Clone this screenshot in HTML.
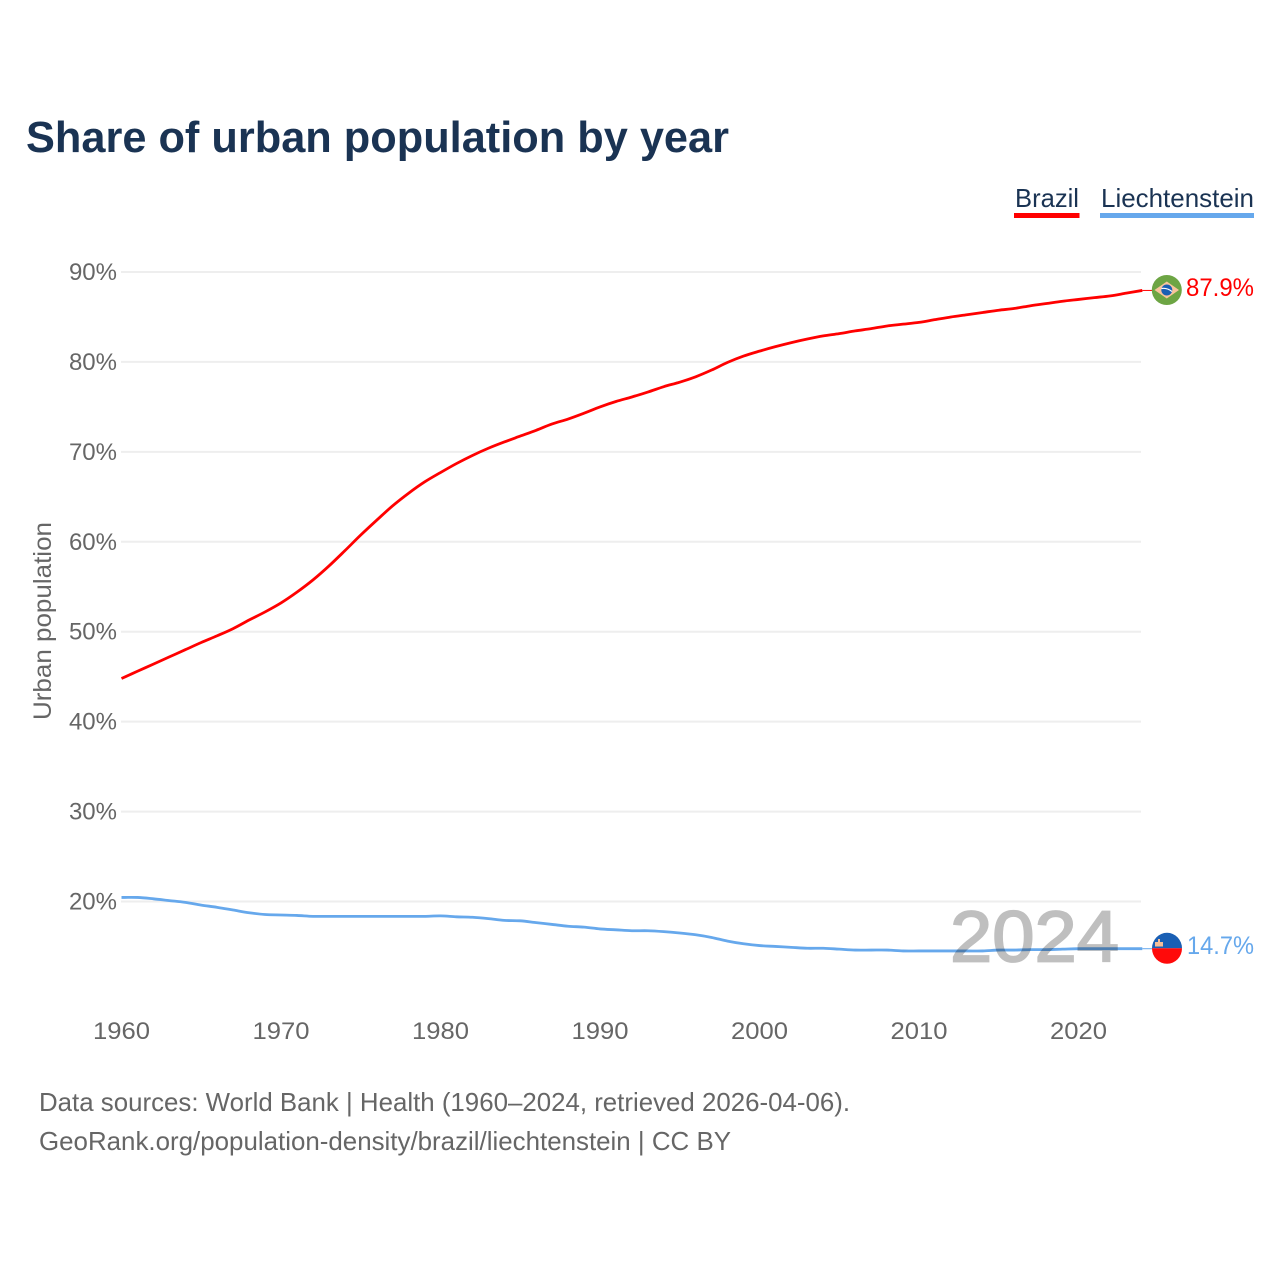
<!DOCTYPE html>
<html lang="en">
<head>
<meta charset="utf-8">
<title>Share of urban population by year</title>
<style>
  html, body { margin: 0; padding: 0; background: #ffffff; }
  svg { display: block; font-family: "Liberation Sans", sans-serif; }
</style>
</head>
<body>
<svg id="chart" xmlns="http://www.w3.org/2000/svg" width="1280" height="1280" viewBox="0 0 1280 1280">
  <rect x="0" y="0" width="1280" height="1280" fill="#ffffff"/>
  <text x="26" y="152" font-size="44" font-weight="700" fill="#1a3353" textLength="703" lengthAdjust="spacingAndGlyphs">Share of urban population by year</text>

  <g>
    <g>
      <text x="1015" y="207" font-size="26" fill="#1a3353" textLength="64" lengthAdjust="spacingAndGlyphs">Brazil</text>
      <rect x="1014" y="213" width="65.5" height="5" fill="#ff0000"/>
    </g>
    <g>
      <text x="1101" y="207" font-size="26" fill="#1a3353" textLength="153" lengthAdjust="spacingAndGlyphs">Liechtenstein</text>
      <rect x="1100" y="213" width="154" height="5" fill="#66a8ec"/>
    </g>
  </g>

  <g id="grid"></g>
  <g id="y-ticks"></g>
  <g id="x-ticks"></g>

  <text transform="translate(51 621) rotate(-90)" text-anchor="middle" font-size="25" fill="#666666" textLength="198" lengthAdjust="spacingAndGlyphs">Urban population</text>

  <g id="series"></g>

  <text x="950" y="961.5" font-size="72" fill="#bfbfbf" stroke="#bfbfbf" stroke-width="1.8" textLength="169" lengthAdjust="spacingAndGlyphs" style="mix-blend-mode:multiply">2024</text>

  <g>
    <circle cx="1166.8" cy="290" r="15" fill="#6da544"/>
    <polygon points="1154.5,290 1166.8,281.5 1179,290 1166.8,298.5" fill="#f8c49c"/>
    <circle cx="1166.8" cy="290" r="5.5" fill="#1a5fb4"/>
    <path d="M1161.5 288.5 Q1167 287.5 1172 291.5" stroke="#ffffff" stroke-width="1.2" fill="none"/>
  </g>
  <g>
    <path d="M1152 948.3 A15 15.5 0 0 1 1182 948.3 Z" fill="#1a5fb4"/>
    <path d="M1152 948.3 A15 15.5 0 0 0 1182 948.3 Z" fill="#ff0a0a"/>
    <rect x="1155" y="942" width="8" height="4.5" fill="#f5be98"/>
    <rect x="1158" y="939" width="2" height="3.5" fill="#f5be98"/>
  </g>

  <text x="1186" y="296" font-size="25" fill="#ff0000" textLength="68" lengthAdjust="spacingAndGlyphs">87.9%</text>
  <text x="1187" y="954" font-size="25" fill="#66a8ec" textLength="67" lengthAdjust="spacingAndGlyphs">14.7%</text>

  <text x="39" y="1111" font-size="26" fill="#666666" textLength="811" lengthAdjust="spacingAndGlyphs">Data sources: World Bank | Health (1960–2024, retrieved 2026-04-06).</text>
  <text x="39" y="1150" font-size="26" fill="#666666" textLength="692" lengthAdjust="spacingAndGlyphs">GeoRank.org/population-density/brazil/liechtenstein | CC BY</text>
</svg>

<script>
const startYear = 1960;
const yTickValues = [20, 30, 40, 50, 60, 70, 80, 90];
const xTickYears = [1960, 1970, 1980, 1990, 2000, 2010, 2020];
const brazilValues = [
  44.8, 45.6, 46.4, 47.2, 48.0, 48.8, 49.55, 50.35, 51.3, 52.2,
  53.2, 54.4, 55.75, 57.3, 59.0, 60.75, 62.4, 64.0, 65.4, 66.65,
  67.7, 68.7, 69.6, 70.4, 71.1, 71.75, 72.4, 73.1, 73.65, 74.3,
  75.0, 75.6, 76.1, 76.65, 77.25, 77.75, 78.35, 79.1, 79.95, 80.65,
  81.2, 81.7, 82.15, 82.55, 82.9, 83.15, 83.45, 83.7, 84.0, 84.2,
  84.4, 84.7, 85.0, 85.25, 85.5, 85.75, 85.95, 86.25, 86.5, 86.75,
  86.95, 87.15, 87.35, 87.65, 87.95
];
const liechtensteinValues = [
  20.45, 20.45, 20.3, 20.1, 19.9, 19.6, 19.35, 19.05, 18.75, 18.55,
  18.5, 18.45, 18.35, 18.35, 18.35, 18.35, 18.35, 18.35, 18.35, 18.35,
  18.4, 18.3, 18.25, 18.1, 17.9, 17.85, 17.65, 17.45, 17.25, 17.15,
  16.95, 16.85, 16.75, 16.75, 16.65, 16.5, 16.3, 16.0, 15.6, 15.3,
  15.1, 15.0, 14.9, 14.8, 14.8, 14.7, 14.6, 14.6, 14.6, 14.5,
  14.5, 14.5, 14.5, 14.5, 14.5, 14.6, 14.6, 14.65, 14.65, 14.7,
  14.75, 14.75, 14.75, 14.75, 14.75
];

const SVG_NS = 'http://www.w3.org/2000/svg';
function xScale(year) { return 121.5 + (year - 1960) * (1078.5 - 121.5) / 60; }
function yScale(value) { return 272 + (90 - value) * (901.5 - 272) / 70; }
function linePath(values) {
  const pts = values.map(function (v, i) { return [xScale(startYear + i), yScale(v)]; });
  let d = 'M' + pts[0][0].toFixed(2) + ' ' + pts[0][1].toFixed(2);
  for (let i = 0; i < pts.length - 1; i++) {
    const p0 = pts[Math.max(i - 1, 0)];
    const p1 = pts[i];
    const p2 = pts[i + 1];
    const p3 = pts[Math.min(i + 2, pts.length - 1)];
    const c1x = p1[0] + (p2[0] - p0[0]) / 6;
    const c1y = p1[1] + (p2[1] - p0[1]) / 6;
    const c2x = p2[0] - (p3[0] - p1[0]) / 6;
    const c2y = p2[1] - (p3[1] - p1[1]) / 6;
    d += ' C' + c1x.toFixed(2) + ' ' + c1y.toFixed(2) + ' ' + c2x.toFixed(2) + ' ' + c2y.toFixed(2) + ' ' + p2[0].toFixed(2) + ' ' + p2[1].toFixed(2);
  }
  return d;
}

const gridGroup = document.getElementById('grid');
const yTickGroup = document.getElementById('y-ticks');
const xTickGroup = document.getElementById('x-ticks');
const seriesGroup = document.getElementById('series');

yTickValues.forEach(function (v) {
  const gridLine = document.createElementNS(SVG_NS, 'line');
  
  
  gridLine.setAttribute('x1', 121);
  gridLine.setAttribute('x2', 1141);
  gridLine.setAttribute('y1', yScale(v));
  gridLine.setAttribute('y2', yScale(v));
  gridLine.setAttribute('stroke', '#eeeeee');
  gridLine.setAttribute('stroke-width', 2);
  gridGroup.appendChild(gridLine);

  const label = document.createElementNS(SVG_NS, 'text');
  
  
  label.setAttribute('x', 117);
  label.setAttribute('y', yScale(v) + 8);
  label.setAttribute('text-anchor', 'end');
  label.setAttribute('font-size', 24);
  label.setAttribute('fill', '#666666');
  label.textContent = v + '%';
  yTickGroup.appendChild(label);
});

xTickYears.forEach(function (year) {
  const label = document.createElementNS(SVG_NS, 'text');
  
  
  label.setAttribute('x', xScale(year));
  label.setAttribute('y', 1039);
  label.setAttribute('text-anchor', 'middle');
  label.setAttribute('font-size', 24);
  label.setAttribute('fill', '#666666');
  label.setAttribute('textLength', 57);
  label.setAttribute('lengthAdjust', 'spacingAndGlyphs');
  label.textContent = year;
  xTickGroup.appendChild(label);
});

const brazilLine = document.createElementNS(SVG_NS, 'path');


brazilLine.setAttribute('d', linePath(brazilValues));
brazilLine.setAttribute('fill', 'none');
brazilLine.setAttribute('stroke', '#ff0000');
brazilLine.setAttribute('stroke-width', 2.8);
brazilLine.setAttribute('stroke-linejoin', 'round');
seriesGroup.appendChild(brazilLine);

const brazilStub = document.createElementNS(SVG_NS, 'line');


brazilStub.setAttribute('x1', xScale(2024));
brazilStub.setAttribute('x2', 1153);
brazilStub.setAttribute('y1', yScale(brazilValues[brazilValues.length - 1]));
brazilStub.setAttribute('y2', yScale(brazilValues[brazilValues.length - 1]));
brazilStub.setAttribute('stroke', '#ff0000');
brazilStub.setAttribute('stroke-width', 1);
seriesGroup.appendChild(brazilStub);

const liechtensteinLine = document.createElementNS(SVG_NS, 'path');


liechtensteinLine.setAttribute('d', linePath(liechtensteinValues));
liechtensteinLine.setAttribute('fill', 'none');
liechtensteinLine.setAttribute('stroke', '#66a8ec');
liechtensteinLine.setAttribute('stroke-width', 2.8);
liechtensteinLine.setAttribute('stroke-linejoin', 'round');
seriesGroup.appendChild(liechtensteinLine);

const liechtensteinStub = document.createElementNS(SVG_NS, 'line');


liechtensteinStub.setAttribute('x1', xScale(2024));
liechtensteinStub.setAttribute('x2', 1153);
liechtensteinStub.setAttribute('y1', yScale(liechtensteinValues[liechtensteinValues.length - 1]));
liechtensteinStub.setAttribute('y2', yScale(liechtensteinValues[liechtensteinValues.length - 1]));
liechtensteinStub.setAttribute('stroke', '#66a8ec');
liechtensteinStub.setAttribute('stroke-width', 1);
seriesGroup.appendChild(liechtensteinStub);
</script>
</body>
</html>
